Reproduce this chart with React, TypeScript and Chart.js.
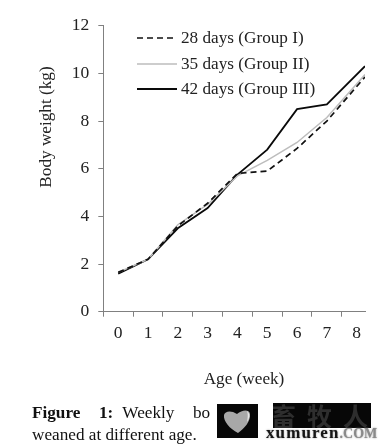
import React, { useEffect, useRef } from "react";
import { Chart, registerables } from "chart.js";

Chart.register(...registerables);

const tickWeeks = [0, 1, 2, 3, 4, 5, 6, 7, 8];
const pointWeeks = [0, 1, 2, 3, 4, 5, 6, 7, 8.28];
const group1 = [1.65, 2.2, 3.6, 4.55, 5.8, 5.9, 6.85, 8.0, 9.85];
const group2 = [1.65, 2.2, 3.65, 4.5, 5.7, 6.35, 7.1, 8.15, 9.95];
const group3 = [1.6, 2.2, 3.5, 4.35, 5.75, 6.8, 8.5, 8.7, 10.3];
const yTitle = "Body weight (kg)";
const xTitle = "Age (week)";

const FONT = '"Liberation Serif", serif';
const INK = "#222222";

const toPoints = (values: number[]) => values.map((y, i) => ({ x: pointWeeks[i], y }));

const annotate = {
  id: "annotate",
  afterDraw(chart: any) {
    const ctx = chart.ctx;
    ctx.save();
    ctx.font = `17.2px ${FONT}`;
    ctx.fillStyle = INK;
    ctx.textBaseline = "middle";
    ctx.textAlign = "left";
    const rows = [38, 64, 89];
    chart.data.datasets.forEach((ds: any, i: number) => {
      ctx.save();
      ctx.beginPath();
      ctx.moveTo(137, rows[i]);
      ctx.lineTo(177, rows[i]);
      ctx.strokeStyle = ds.borderColor;
      ctx.lineWidth = ds.borderWidth;
      ctx.setLineDash(ds.borderDash || []);
      ctx.stroke();
      ctx.restore();
      ctx.fillText(ds.label, 181, rows[i]);
    });
    ctx.textAlign = "center";
    ctx.fillText(xTitle, 244, 379);
    ctx.translate(46.5, 127);
    ctx.rotate(-Math.PI / 2);
    ctx.fillText(yTitle, 0, 0);
    ctx.restore();
  },
};

export default function App() {
  const ref = useRef<HTMLCanvasElement>(null);
  useEffect(() => {
    const chart = new Chart(ref.current!, {
      type: "line",
      data: {
        datasets: [
          { label: "28 days (Group I)", data: toPoints(group1), borderColor: "#111111", borderWidth: 1.7, borderDash: [6, 4], pointRadius: 0, tension: 0 },
          { label: "35 days (Group II)", data: toPoints(group2), borderColor: "#bdbdbd", borderWidth: 1.5, pointRadius: 0, tension: 0 },
          { label: "42 days (Group III)", data: toPoints(group3), borderColor: "#0a0a0a", borderWidth: 1.8, pointRadius: 0, tension: 0 },
        ],
      },
      options: {
        responsive: false,
        animation: false,
        layout: { padding: { top: 25.7, right: 25, left: 0, bottom: 0 } },
        plugins: { legend: { display: false }, tooltip: { enabled: false } },
        scales: {
          x: {
            type: "linear",
            min: -0.5,
            max: 8.28,
            afterBuildTicks: (s: any) => { s.ticks = tickWeeks.map((value) => ({ value })); },
            afterFit: (s: any) => { s.height = 133.3; },
            grid: { offset: true, drawOnChartArea: false, drawTicks: true, tickLength: 5, color: "#808080" },
            border: { color: "#808080" },
            ticks: { color: INK, font: { family: FONT, size: 17.5 }, padding: 6, maxRotation: 0, autoSkip: false, callback: (v: any) => String(v) },
          },
          y: {
            min: 0,
            max: 12,
            afterFit: (s: any) => { s.width = 103.3; },
            grid: { drawOnChartArea: false, tickLength: 5, color: "#808080" },
            border: { color: "#808080" },
            ticks: { stepSize: 2, color: INK, font: { family: FONT, size: 17.5 }, padding: 9 },
          },
        },
      },
      plugins: [annotate],
    } as any);
    return () => chart.destroy();
  }, []);

  const abs = (s: React.CSSProperties): React.CSSProperties => ({ position: "absolute", ...s });
  return (
    <div style={{ position: "absolute", left: 0, top: 0, width: 390, height: 445, overflow: "hidden", background: "#fff", fontFamily: FONT }}>
      <canvas ref={ref} width={390} height={445} style={{ display: "block" }} />
      <div style={abs({ left: 32, top: 404, fontSize: 17.2, lineHeight: "18px", color: "#111", whiteSpace: "nowrap", wordSpacing: 5 })}>
        <b>Figure&nbsp; 1:</b> Weekly&nbsp; bo
      </div>
      <div style={abs({ left: 32, top: 426, fontSize: 17.2, lineHeight: "18px", color: "#111", whiteSpace: "nowrap" })}>
        weaned at different age.
      </div>
      <div style={abs({ left: 217, top: 404, width: 41, height: 34, background: "#070707" })}>
        <svg width="41" height="34" viewBox="0 0 41 34">
          <path d="M21 29 C13 25 6 17 7 11 C8 7 14 6 20 10 C25 6 32 5 33 10 C34 17 27 25 21 29 Z" fill="#a8a8a8" />
          <path d="M30 7 C33 9 33 14 30 18 C31 13 31 10 30 7 Z" fill="#e8e8e8" />
        </svg>
      </div>
      <div style={abs({ left: 273, top: 403, width: 98, height: 25, background: "#070707", color: "#2e2e2e", fontFamily: '"Noto Sans CJK SC"', fontWeight: 700, fontSize: 25, lineHeight: "25px", letterSpacing: 11, textIndent: -2, whiteSpace: "nowrap", overflow: "hidden" })}>
        畜牧人
      </div>
      <div style={abs({ left: 266, top: 424, fontSize: 17, lineHeight: "17px", fontWeight: 700, color: "#151515", letterSpacing: 1.1, whiteSpace: "nowrap", textShadow: "0 0 2px #999" })}>
        xumuren<span style={{ color: "#8a8a8a", fontSize: 14, letterSpacing: 0 }}>.COM</span>
      </div>
    </div>
  );
}
